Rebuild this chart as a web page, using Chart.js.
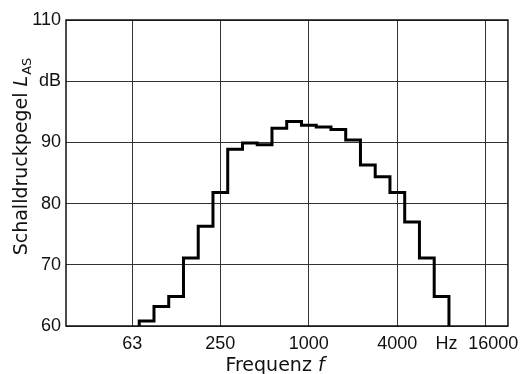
<!DOCTYPE html>
<html>
<head>
<meta charset="utf-8">
<script src="https://cdn.jsdelivr.net/npm/chart.js@4/dist/chart.umd.min.js"></script>
<style>
  html, body { margin: 0; padding: 0; background: #fff; }
  #wrap { width: 526px; height: 374px; }
</style>
</head>
<body>
<div id="wrap"><canvas id="chart" width="526" height="374"></canvas></div>
<script>
// third-octave bands (nominal centre frequency, Hz) and measured level L_AS (dB)
const bandCentres = [80, 100, 125, 160, 200, 250, 315, 400, 500, 630, 800,
                     1000, 1250, 1600, 2000, 2500, 3150, 4000, 5000, 6300, 8000];
const bandLevels = [60.8, 63.2, 64.8, 71.1, 76.3, 81.8, 88.9, 89.9, 89.6, 92.3, 93.4,
                    92.8, 92.5, 92.1, 90.4, 86.3, 84.4, 81.8, 77.0, 71.1, 64.8];

const yTicks = [60, 70, 80, 90, 100, 110];
const yTickLabels = ["60", "70", "80", "90", "dB", "110"];
const xTicks = [63, 250, 1000, 4000, 8000, 16000];
const xTickLabels = ["63", "250", "1000", "4000", "  Hz", "   16000"];

const yMin = 60, yMax = 110;
const fMin = 63 / Math.pow(2, 1.5), fMax = 16000 * Math.pow(2, 0.5);

// band edges from the exact base-2 third-octave centre
const exactCentre = f => 1000 * Math.pow(2, Math.round(3 * Math.log2(f / 1000)) / 3);
const lowerEdge = f => exactCentre(f) * Math.pow(2, -1 / 6);
const upperEdge = f => exactCentre(f) * Math.pow(2, 1 / 6);

const stepPoints = [{ x: lowerEdge(bandCentres[0]), y: yMin }]
    .concat(bandCentres.map((f, i) => ({ x: lowerEdge(f), y: bandLevels[i] })))
    .concat([{ x: upperEdge(bandCentres[bandCentres.length - 1]), y: yMin }]);

const ink = "#111";
const tickFont = { family: "Liberation Sans", size: 18 };

// frame round the plot + the two axis titles with italic symbol and subscript
const frameAndTitles = {
    id: "frameAndTitles",
    afterDraw(chart) {
        const { ctx, chartArea: a } = chart;
        ctx.save();
        ctx.strokeStyle = ink;
        ctx.lineWidth = 1.5;
        ctx.strokeRect(a.left, a.top, a.right - a.left, a.bottom - a.top);

        ctx.fillStyle = ink;
        ctx.textBaseline = "alphabetic";
        ctx.textAlign = "left";

        // x title: "Frequenz f"
        const reg = '19px "DejaVu Sans"';
        const ital = 'oblique 19px "DejaVu Sans"';
        ctx.font = reg;
        const w1 = ctx.measureText("Frequenz ").width;
        ctx.font = ital;
        const w2 = ctx.measureText("f").width;
        let x0 = 275 - (w1 + w2) / 2;
        ctx.font = reg;
        ctx.fillText("Frequenz ", x0, 371);
        ctx.font = ital;
        ctx.fillText("f", x0 + w1, 371);

        // y title: "Schalldruckpegel L_AS"
        ctx.translate(27, 157);
        ctx.rotate(-Math.PI / 2);
        const sub = '13px "DejaVu Sans"';
        ctx.font = reg;
        const s1 = ctx.measureText("Schalldruckpegel ").width;
        ctx.font = ital;
        const s2 = ctx.measureText("L").width;
        ctx.font = sub;
        const s3 = ctx.measureText("AS").width;
        x0 = -(s1 + s2 + s3) / 2;
        ctx.font = reg;
        ctx.fillText("Schalldruckpegel ", x0, 0);
        ctx.font = ital;
        ctx.fillText("L", x0 + s1, 0);
        ctx.font = sub;
        ctx.fillText("AS", x0 + s1 + s2 + 1, 4);
        ctx.restore();
    },
};

new Chart(document.getElementById("chart"), {
    type: "line",
    data: {
        datasets: [
            {
                data: stepPoints,
                stepped: "before",
                borderColor: "#000",
                borderWidth: 3,
                pointRadius: 0,
                fill: false,
            },
        ],
    },
    options: {
        responsive: false,
        animation: false,
        layout: { padding: { top: 20, right: 13, left: 0, bottom: 0 } },
        plugins: { legend: { display: false }, tooltip: { enabled: false } },
        scales: {
            x: {
                type: "logarithmic",
                min: fMin,
                max: fMax,
                afterBuildTicks: (s) => { s.ticks = xTicks.map((v) => ({ value: v })); },
                afterFit: (s) => { s.height = 48; },
                grid: {
                    drawTicks: false,
                    color: (c) => (c.tick && c.tick.value === 8000 ? "rgba(0,0,0,0)" : "#333"),
                    lineWidth: 1,
                },
                border: { display: false },
                ticks: {
                    autoSkip: false,
                    maxRotation: 0,
                    padding: 7,
                    color: ink,
                    font: tickFont,
                    callback: (v) => xTickLabels[xTicks.indexOf(v)],
                },
            },
            y: {
                min: yMin,
                max: yMax,
                afterBuildTicks: (s) => { s.ticks = yTicks.map((v) => ({ value: v })); },
                afterFit: (s) => { s.width = 66; },
                grid: { drawTicks: false, color: "#333", lineWidth: 1 },
                border: { display: false },
                ticks: {
                    padding: 5,
                    color: ink,
                    font: tickFont,
                    callback: (v) => yTickLabels[yTicks.indexOf(v)],
                },
            },
        },
    },
    plugins: [frameAndTitles],
});
</script>
</body>
</html>
